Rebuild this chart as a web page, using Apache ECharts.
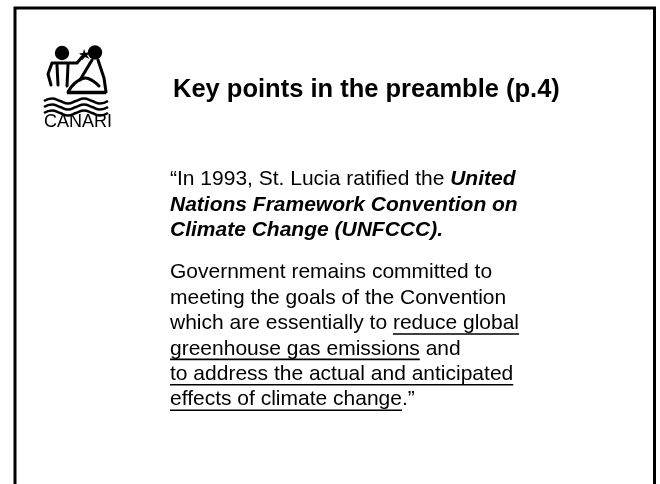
<!DOCTYPE html>
<html>
<head>
<meta charset="utf-8">
<script src="https://cdn.jsdelivr.net/npm/echarts@6/dist/echarts.min.js"></script>
<style>
  html, body { margin: 0; padding: 0; background: #fff; }
  #slide { width: 660px; height: 484px; }
</style>
</head>
<body>
<div id="slide"></div>
<script>
// slide text
var titleText = 'Key points in the preamble (p.4)';
var logoText = 'CANARI';
// each line: list of [style, text]; n = normal, bi = bold italic, u = underlined
var para1 = [
  [['n', '\u201cIn 1993, St. Lucia ratified the '], ['bi', 'United']],
  [['bi', 'Nations Framework Convention on']],
  [['bi', 'Climate Change (UNFCCC).']]
];
var para2 = [
  [['n', 'Government remains committed to']],
  [['n', 'meeting the goals of the Convention']],
  [['n', 'which are essentially to '], ['u', 'reduce global']],
  [['u', 'greenhouse gas emissions'], ['n', ' and']],
  [['u', 'to address the actual and anticipated']],
  [['u', 'effects of climate change'], ['n', '.\u201d']]
];

var FAMILY = '"Liberation Sans", Arial, sans-serif';
var BODY = 21;
var ctx = document.createElement('canvas').getContext('2d');

function fontOf(k) {
  return (k === 'bi' ? 'italic bold ' : 'normal ') + BODY + 'px ' + FAMILY;
}

var graphic = [];

// frame (open at the bottom)
graphic.push({
  type: 'polyline',
  shape: {points: [[15, 484], [15, 8], [654.5, 8], [654.5, 484]]},
  style: {stroke: '#000', lineWidth: 3, fill: null}
});

// title
graphic.push({
  type: 'text', x: 173, y: 89.5,
  style: {text: titleText, font: 'bold 25.5px ' + FAMILY, fill: '#000', textAlign: 'left', textVerticalAlign: 'middle'}
});

// body text
var x0 = 170, y0 = 187, lh = 25.4, gap = 17;
var row = 0;
[para1, para2].forEach(function (para, pi) {
  para.forEach(function (line) {
    var base = y0 + row * lh + pi * gap;
    var x = x0;
    line.forEach(function (seg) {
      var f = fontOf(seg[0]);
      ctx.font = f;
      var w = ctx.measureText(seg[1]).width;
      graphic.push({
        type: 'text', x: x, y: base - BODY * 0.36,
        style: {text: seg[1], font: f, fill: '#000', textAlign: 'left', textVerticalAlign: 'middle'}
      });
      if (seg[0] === 'u') {
        graphic.push({
          type: 'line',
          shape: {x1: x, y1: base + 3, x2: x + w, y2: base + 3},
          style: {stroke: '#000', lineWidth: 1.6}
        });
      }
      x += w;
    });
    row++;
  });
});

// CANARI logo
var ink = {stroke: '#000', lineWidth: 3, fill: null, lineJoin: 'round', lineCap: 'round'};
graphic.push({type: 'circle', shape: {cx: 62, cy: 53, r: 7.2}, style: {fill: '#000'}});
graphic.push({type: 'circle', shape: {cx: 95, cy: 52.5, r: 7.2}, style: {fill: '#000'}});
// left figure
graphic.push({type: 'polyline', shape: {points: [[51, 85], [48, 74], [52, 63], [77, 63], [82, 57]]}, style: ink});
graphic.push({type: 'polyline', shape: {points: [[57, 65], [58, 85]]}, style: ink});
graphic.push({type: 'polyline', shape: {points: [[68, 65], [67, 86]]}, style: ink});
graphic.push({
  type: 'polygon',
  shape: {points: [[84, 49], [85.5, 53], [90, 52], [87, 55.5], [89.5, 59], [85, 57], [82, 60.5], [82.5, 56], [79, 53.5], [83, 53]]},
  style: {fill: '#000'}
});
// right figure
graphic.push({type: 'polyline', shape: {points: [[92, 60], [80, 80]]}, style: ink});
graphic.push({type: 'polyline', shape: {points: [[98, 60], [104, 78], [106, 92]]}, style: ink});
// hill / boat
graphic.push({type: 'polyline', shape: {points: [[68, 92], [75, 83], [85, 78], [93, 81], [99, 86]], smooth: 0.4}, style: ink});
graphic.push({type: 'polyline', shape: {points: [[67, 92.5], [106, 92.5]]}, style: {stroke: '#000', lineWidth: 3.5}});
// waves
[101, 107, 113].forEach(function (wy) {
  graphic.push({
    type: 'polyline',
    shape: {points: [[44, wy], [52, wy - 2.5], [60, wy], [68, wy + 2.5], [76, wy], [84, wy - 2.5], [92, wy], [100, wy + 2.5], [108, wy]], smooth: 0.5},
    style: {stroke: '#000', lineWidth: 2.5, fill: null}
  });
});
graphic.push({
  type: 'text', x: 44, y: 128.5 - 18 * 0.36,
  style: {text: logoText, font: 'normal 18px ' + FAMILY, fill: '#000', textAlign: 'left', textVerticalAlign: 'middle'}
});

var chart = echarts.init(document.getElementById('slide'));
chart.setOption({
  backgroundColor: '#fff',
  animation: false,
  graphic: graphic
});
</script>
</body>
</html>
